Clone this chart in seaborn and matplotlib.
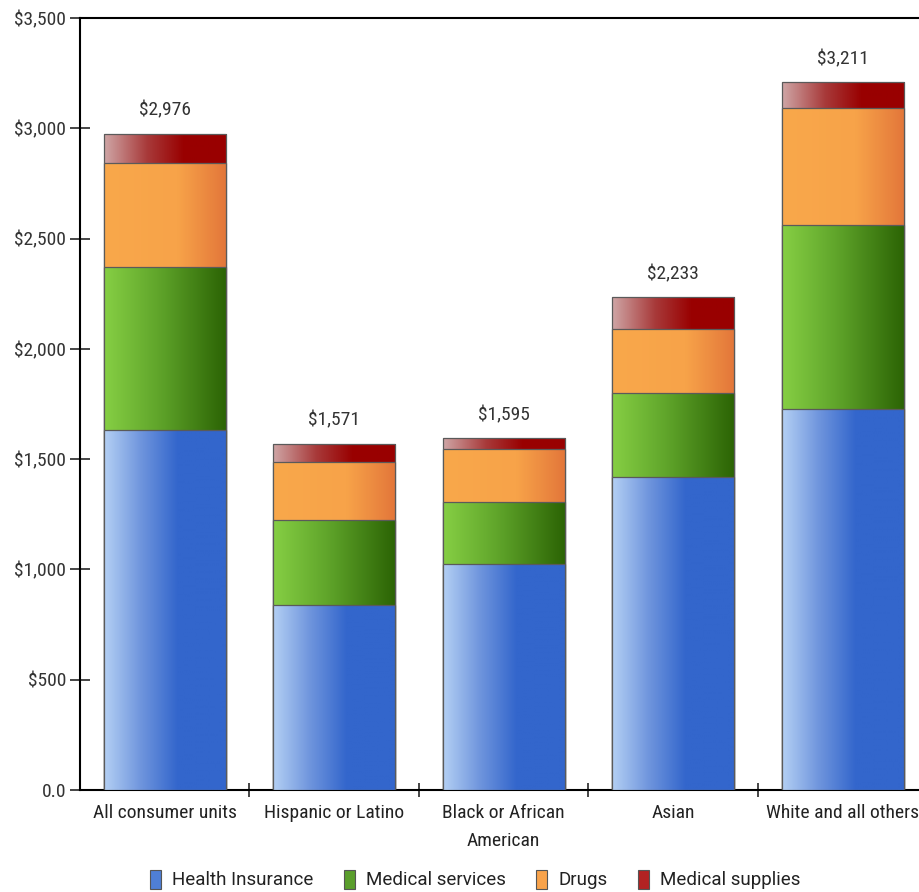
import matplotlib
matplotlib.use('Agg')
import matplotlib.pyplot as plt
from matplotlib.colors import LinearSegmentedColormap
from matplotlib.patches import Patch
import seaborn as sns
import numpy as np
import pandas as pd

# Data
groups = ['All consumer units', 'Hispanic or Latino', 'Black or African\nAmerican',
          'Asian', 'White and all others']
health_insurance = [1631, 839, 1026, 1419, 1727]
medical_services = [741, 387, 282, 383, 834]
drugs = [470, 261, 237, 289, 530]
medical_supplies = [134, 84, 50, 142, 120]
totals = [2976, 1571, 1595, 2233, 3211]

series_names = ['Health Insurance', 'Medical services', 'Drugs', 'Medical supplies']
# gradient stops left -> right for each series
gradients = {
    'Health Insurance': [(0.0, '#b4d0f4'), (0.3, '#6f95dd'), (0.6, '#3366cc'), (1.0, '#3366cc')],
    'Medical services': [(0.0, '#86cf44'), (0.45, '#5fa42a'), (1.0, '#2b6304')],
    'Drugs': [(0.0, '#f9a84b'), (0.6, '#f7a349'), (1.0, '#e3763a')],
    'Medical supplies': [(0.0, '#cfa6a6'), (0.35, '#a83a3a'), (0.65, '#990000'), (1.0, '#990000')],
}
legend_colors = ['#4f7fd6', '#5a9e2c', '#f9a34b', '#b22222']

df = pd.DataFrame({'group': groups,
                   'Health Insurance': health_insurance,
                   'Medical services': medical_services,
                   'Drugs': drugs,
                   'Medical supplies': medical_supplies})
# cumulative tops for stacking
cum = df[series_names].cumsum(axis=1)
cum['group'] = groups

sns.set_style('white')
plt.rcParams['font.family'] = ['Roboto Condensed', 'DejaVu Sans']

fig = plt.figure(figsize=(9.19, 8.92), dpi=100)
ax = fig.add_axes([0.087, 0.1143, 0.913, 0.8655])

grad = np.linspace(0, 1, 256).reshape(1, -1)
z = 2
# draw from the top layer down so lower segments cover upper ones
for name in reversed(series_names):
    before = len(ax.patches)
    sns.barplot(data=cum, x='group', y=name, color=legend_colors[0], width=0.72,
                ax=ax, edgecolor='#5a5a5a', linewidth=0.9, zorder=z)
    cmap = LinearSegmentedColormap.from_list(name, gradients[name])
    for p in ax.patches[before:]:
        x0, y0, w, h = p.get_x(), p.get_y(), p.get_width(), p.get_height()
        im = ax.imshow(grad, extent=[x0, x0 + w, y0, y0 + h], aspect='auto',
                       cmap=cmap, origin='lower', zorder=z + 0.1, interpolation='bilinear')
        im.set_clip_path(p)
        p.set_facecolor('none')
        p.set_zorder(z + 0.2)
    z += 1

ax.set_xlim(-0.5, 4.45)
ax.set_ylim(0, 3500)
ax.set_aspect('auto')

# total labels
for i, t in enumerate(totals):
    ax.annotate(f'${t:,}', (i, t), xytext=(0, 10), textcoords='offset points',
                ha='center', va='bottom', fontsize=14, color='#333333')

# y axis
yt = [0, 500, 1000, 1500, 2000, 2500, 3000, 3500]
ax.set_yticks(yt)
ax.set_yticklabels(['0.0'] + [f'${v:,}' for v in yt[1:]], fontsize=14, color='#333333')
ax.tick_params(axis='y', direction='inout', length=14, width=1.2, pad=3, left=True)

# x axis: labels at centres, tick marks between bars
ax.set_xticks(range(len(groups)))
ax.set_xticklabels(groups, fontsize=14, color='#222222', linespacing=1.75)
ax.set_xticks([0.5, 1.5, 2.5, 3.5], minor=True)
ax.tick_params(axis='x', which='major', length=0, pad=10)
ax.tick_params(axis='x', which='minor', direction='inout', length=10, width=1.2, bottom=True)
ax.set_xlabel('')
ax.set_ylabel('')

for s in ['left', 'bottom', 'top']:
    ax.spines[s].set_visible(True)
    ax.spines[s].set_color('black')
    ax.spines[s].set_linewidth(1.5)
ax.spines['right'].set_visible(False)

handles = [Patch(facecolor=c, edgecolor='#555555', linewidth=0.8) for c in legend_colors]
fig.legend(handles, series_names, loc='center', bbox_to_anchor=(0.517, 0.014), ncol=4,
           frameon=False, prop={'family': ['Roboto', 'DejaVu Sans'], 'size': 13.5},
           handlelength=0.6, handleheight=1.2,
           handletextpad=0.6, columnspacing=1.6, labelcolor='#222222')

fig.savefig('out.png', dpi=100)
